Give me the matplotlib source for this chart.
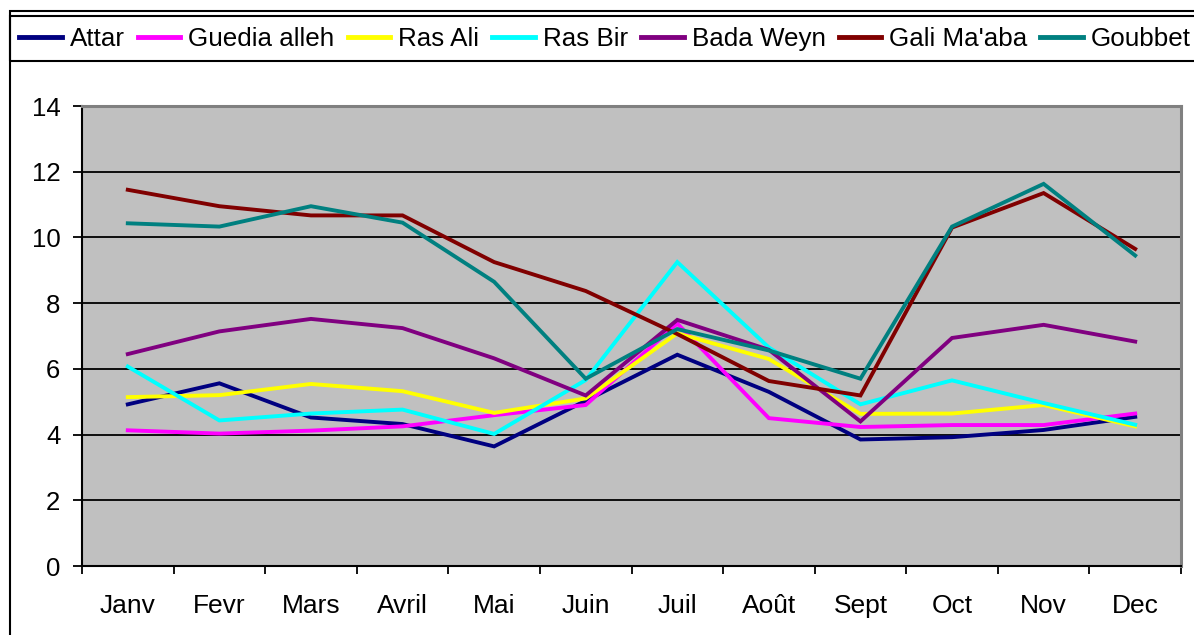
import matplotlib
matplotlib.use("Agg")
import matplotlib.pyplot as plt
from matplotlib.lines import Line2D
from matplotlib.patches import Rectangle
from matplotlib.ticker import FixedLocator, NullFormatter

plt.rcParams['font.family'] = ['Liberation Sans', 'DejaVu Sans']

months = ["Janv", "Fevr", "Mars", "Avril", "Mai", "Juin",
          "Juil", "Août", "Sept", "Oct", "Nov", "Dec"]

attar = [4.92, 5.56, 4.52, 4.32, 3.64, 5.03, 6.43, 5.30, 3.85, 3.92, 4.14, 4.54]
guedia_alleh = [4.13, 4.03, 4.12, 4.25, 4.59, 4.90, 7.38, 4.50, 4.23, 4.29, 4.29, 4.64]
ras_ali = [5.14, 5.20, 5.54, 5.32, 4.66, 5.10, 7.08, 6.30, 4.63, 4.64, 4.90, 4.25]
ras_bir = [6.07, 4.43, 4.64, 4.76, 4.02, 5.66, 9.25, 6.65, 4.92, 5.65, 4.96, 4.30]
bada_weyn = [6.45, 7.14, 7.52, 7.24, 6.32, 5.19, 7.49, 6.58, 4.40, 6.94, 7.34, 6.83]
gali_maaba = [11.45, 10.95, 10.67, 10.67, 9.25, 8.37, 7.06, 5.63, 5.19, 10.30, 11.35, 9.65]
goubbet = [10.43, 10.33, 10.95, 10.45, 8.65, 5.70, 7.21, 6.56, 5.70, 10.33, 11.63, 9.45]

series_names = ["Attar", "Guedia alleh", "Ras Ali", "Ras Bir",
                "Bada Weyn", "Gali Ma'aba", "Goubbet"]
series_values = [attar, guedia_alleh, ras_ali, ras_bir,
                 bada_weyn, gali_maaba, goubbet]
series_colors = ["#000080", "#FF00FF", "#FFFF00", "#00FFFF",
                 "#800080", "#800000", "#008080"]

W, H = 1194, 635
fig = plt.figure(figsize=(W / 100, H / 100), dpi=100)
fig.patch.set_facecolor("white")

# outer chart frame and legend box
fig.add_artist(Rectangle((10 / W, -0.1), 1.2, (H - 11) / H + 0.1,
                         transform=fig.transFigure, fill=False,
                         edgecolor="black", linewidth=1.5))
fig.add_artist(Rectangle((10 / W, (H - 61) / H), 1.2, 45 / H,
                         transform=fig.transFigure, fill=False,
                         edgecolor="black", linewidth=1.5))

left, right, top, bottom = 82, 1181, 106, 566
ax = fig.add_axes([left / W, (H - bottom) / H, (right - left) / W, (bottom - top) / H])
ax.set_facecolor("#C0C0C0")

x = list(range(len(months)))
for name, vals, col in zip(series_names, series_values, series_colors):
    ax.plot(x, vals, color=col, linewidth=2.8, label=name,
            solid_joinstyle="miter", zorder=3)

ax.set_xlim(-0.5, len(months) - 0.5)
ax.set_ylim(0, 14)
ax.set_yticks(range(0, 15, 2))
ax.yaxis.grid(True, color="black", linewidth=1.3, zorder=1)
ax.set_axisbelow(True)

ax.set_xticks(x)
ax.set_xticklabels(months, fontsize=19)
ax.xaxis.set_minor_locator(FixedLocator([i - 0.5 for i in range(len(months) + 1)]))
ax.xaxis.set_minor_formatter(NullFormatter())
ax.tick_params(axis="x", which="major", length=0, pad=20)
ax.tick_params(axis="x", which="minor", length=6, width=1.3, color="black", direction="out")
ax.tick_params(axis="y", length=6.5, width=1.3, color="black", direction="out",
               labelsize=18.5, pad=9)

for side in ("top", "right"):
    ax.spines[side].set_color("#808080")
    ax.spines[side].set_linewidth(2.2)
for side in ("left", "bottom"):
    ax.spines[side].set_color("black")
    ax.spines[side].set_linewidth(1.5)

handles = [Line2D([0], [0], color=c, linewidth=3.5) for c in series_colors]
fig.legend(handles, series_names, loc="center left",
           bbox_to_anchor=(19 / W, (H - 39) / H), ncol=7, frameon=False,
           fontsize=18.7, handlelength=1.65, handletextpad=0.3,
           columnspacing=0.5, borderpad=0, borderaxespad=0)

fig.savefig("out.png", dpi=100)
